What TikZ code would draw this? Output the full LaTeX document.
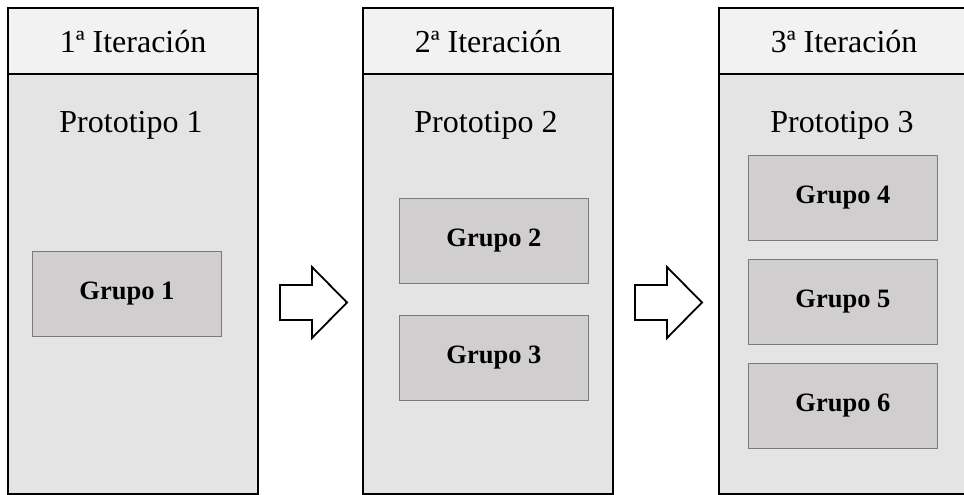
\documentclass[tikz,border=0pt]{standalone}
\usepackage{fontspec}
\setmainfont{Liberation Serif}
\definecolor{headfill}{HTML}{F2F2F2}
\definecolor{bodyfill}{HTML}{E4E4E4}
\definecolor{groupfill}{HTML}{D0CECE}
\definecolor{groupline}{HTML}{7A7A7A}
\begin{document}
\begin{tikzpicture}[x=1pt,y=-1pt,
  header/.style={draw=black, line width=2.2pt, fill=headfill, anchor=north west,
    minimum width=250pt, minimum height=66pt, inner sep=0pt,
    font=\fontsize{32}{34}\selectfont},
  body/.style={draw=black, line width=2.2pt, fill=bodyfill, anchor=north west,
    minimum width=250pt, minimum height=420pt, inner sep=0pt},
  proto/.style={font=\fontsize{32}{34}\selectfont, inner sep=0pt},
  group/.style={draw=groupline, line width=0.9pt, fill=groupfill, anchor=north west,
    minimum width=189pt, minimum height=85pt, inner sep=0pt,
    font=\bfseries\fontsize{26.5}{28}\selectfont},
  blockarrow/.style={draw=black, line width=1.8pt, fill=white, line join=miter}]
\useasboundingbox (0,0) rectangle (964,495);

% iteration columns: body first, header on top
\node[body]   (b1) at (7,73)   {};
\node[header] (h1) at (7,7)    {1ª Iteración};
\node[body]   (b2) at (362,73) {};
\node[header] (h2) at (362,7)  {2ª Iteración};
\node[body]   (b3) at (718,73) {};
\node[header] (h3) at (718,7)  {3ª Iteración};

% prototype titles
\node[proto] (p1) at (131,125) {Prototipo 1};
\node[proto] (p2) at (486,125) {Prototipo 2};
\node[proto] (p3) at (842,125) {Prototipo 3};

% groups
\node[group] (g1) at (32,251)  {Grupo 1};
\node[group] (g2) at (399,198) {Grupo 2};
\node[group] (g3) at (399,315) {Grupo 3};
\node[group] (g4) at (748,155) {Grupo 4};
\node[group] (g5) at (748,259) {Grupo 5};
\node[group] (g6) at (748,363) {Grupo 6};

% block arrows between columns
\foreach \s in {280,635}{
  \draw[blockarrow] (\s,285) -- (\s+32,285) -- (\s+32,267) -- (\s+67,302.5)
    -- (\s+32,338) -- (\s+32,320) -- (\s,320) -- cycle;
}
\end{tikzpicture}
\end{document}
